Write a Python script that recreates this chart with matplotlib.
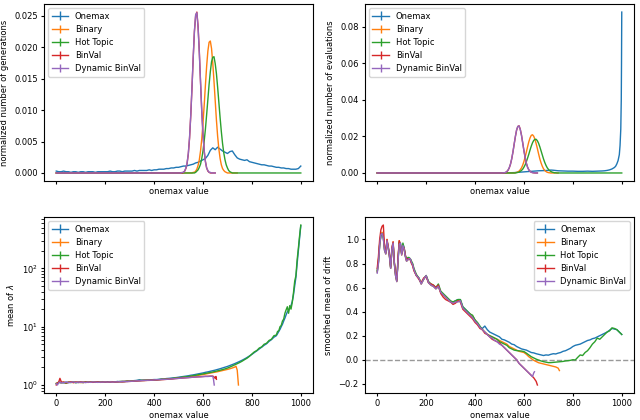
import numpy as np
import matplotlib
matplotlib.use("Agg")
import matplotlib.pyplot as plt

plt.rcParams['font.family'] = ['DejaVu Sans']
plt.rcParams['font.size'] = 6

LABELS = ["Onemax", "Binary", "Hot Topic", "BinVal", "Dynamic BinVal"]
COLORS = ["#1f77b4", "#ff7f0e", "#2ca02c", "#d62728", "#9467bd"]
XTICKS = [0, 200, 400, 600, 800, 1000]

# ---------------- top-left: normalized number of generations ----------------
onemax_gen_x = list(range(0, 1001, 10))
onemax_gen = [
    0.0003, 0.0002, 0.0002, 0.0003, 0.0002, 0.0002, 0.0001, 0.0002, 0.0002, 0.0001,
    0.0002, 0.0002, 0.0001, 0.0002, 0.0002, 0.0002, 0.0001, 0.0002, 0.0002, 0.0002,
    0.0002, 0.0002, 0.0003, 0.0002, 0.0002, 0.0003, 0.0003, 0.0002, 0.0003, 0.0003,
    0.0003, 0.0003, 0.0004, 0.0003, 0.0004, 0.0004, 0.0004, 0.0004, 0.0005, 0.0004,
    0.0005, 0.0005, 0.0006, 0.0006, 0.0006, 0.0007, 0.0007, 0.0008, 0.0008, 0.0009,
    0.0009, 0.0010, 0.0011, 0.0011, 0.0012, 0.0013, 0.0014, 0.0016, 0.0017, 0.0019,
    0.0021, 0.0023, 0.0028, 0.0036, 0.0040, 0.0037, 0.0041, 0.0038, 0.0035, 0.0033,
    0.0031, 0.0034, 0.0035, 0.0029, 0.0024, 0.0022, 0.0021, 0.0020, 0.0021, 0.0018,
    0.0017, 0.0016, 0.0015, 0.0014, 0.0013, 0.0013, 0.0012, 0.0011, 0.0011, 0.0010,
    0.0009, 0.0009, 0.0008, 0.0008, 0.0007, 0.0007, 0.0006, 0.0006, 0.0006, 0.0007,
    0.0011]

peak_x = list(range(500, 765, 5))  # 500 .. 760

binval_gen = [
    0.0, 0.0, 0.0, 0.0, 0.0001, 0.0003, 0.0007, 0.0015, 0.0030, 0.0055,
    0.0091, 0.0135, 0.0183, 0.0225, 0.0250, 0.0256, 0.0233, 0.0193, 0.0145, 0.0099,
    0.0062, 0.0035, 0.0018, 0.0008, 0.0003, 0.0001, 0.0, 0.0, 0.0, 0.0,
    0.0]
dynbinval_gen = [
    0.0, 0.0, 0.0, 0.0001, 0.0001, 0.0003, 0.0008, 0.0016, 0.0031, 0.0056,
    0.0092, 0.0136, 0.0184, 0.0226, 0.0252, 0.0255, 0.0231, 0.0191, 0.0144, 0.0098,
    0.0061, 0.0035, 0.0018, 0.0008, 0.0004, 0.0001, 0.0001, 0.0, 0.0, 0.0,
    0.0]
binary_gen = [
    0.0, 0.0, 0.0, 0.0, 0.0, 0.0, 0.0, 0.0, 0.0, 0.0, 0.0, 0.0,
    0.0001, 0.0001, 0.0003, 0.0006, 0.0012, 0.0021, 0.0035, 0.0054, 0.0079, 0.0108,
    0.0140, 0.0170, 0.0194, 0.0208, 0.0210, 0.0198, 0.0175, 0.0146, 0.0115, 0.0084,
    0.0058, 0.0038, 0.0023, 0.0013, 0.0007, 0.0004, 0.0002, 0.0001,
    0.0, 0.0, 0.0, 0.0, 0.0, 0.0, 0.0, 0.0, 0.0]
hottopic_gen = [
    0.0, 0.0, 0.0, 0.0, 0.0, 0.0, 0.0, 0.0, 0.0, 0.0, 0.0, 0.0, 0.0, 0.0,
    0.0001, 0.0003, 0.0005, 0.0009, 0.0014, 0.0023, 0.0035, 0.0051, 0.0070, 0.0093,
    0.0117, 0.0141, 0.0161, 0.0177, 0.0184, 0.0185, 0.0174, 0.0158, 0.0136, 0.0112,
    0.0088, 0.0066, 0.0047, 0.0032, 0.0021, 0.0013, 0.0008, 0.0004, 0.0002, 0.0001,
    0.0, 0.0, 0.0, 0.0, 0.0, 0.0, 0.0, 0.0, 0.0]

# ---------------- top-right: normalized number of evaluations ----------------
onemax_eval_x = [0, 100, 200, 300, 400, 500, 540, 560, 580, 600, 620, 640, 660, 680,
                 700, 710, 720, 740, 760, 780, 800, 820, 840, 860, 880, 900, 920, 930,
                 940, 950, 960, 970, 975, 980, 985, 990, 993, 996, 998, 999, 1000]
onemax_eval = [0.0, 0.0, 0.0, 0.0, 0.0, 0.0001, 0.0001, 0.0002, 0.0004, 0.0006, 0.0008,
               0.0010, 0.0012, 0.0013, 0.0014, 0.0016, 0.0015, 0.0012, 0.0011, 0.0010,
               0.0010, 0.0009, 0.0009, 0.0010, 0.0009, 0.0010, 0.0011, 0.0012, 0.0014,
               0.0017, 0.0022, 0.0030, 0.0037, 0.0050, 0.0068, 0.0100, 0.0150, 0.0240,
               0.0400, 0.0600, 0.0880]
binval_eval = [
    0.0, 0.0, 0.0, 0.0, 0.0001, 0.0003, 0.0007, 0.0015, 0.0028, 0.0048,
    0.0077, 0.0114, 0.0157, 0.0199, 0.0234, 0.0254, 0.0258, 0.0239, 0.0207, 0.0165,
    0.0122, 0.0084, 0.0053, 0.0031, 0.0017, 0.0009, 0.0004, 0.0002, 0.0001, 0.0,
    0.0, 0.0]
dynbinval_eval = [
    0.0, 0.0, 0.0, 0.0001, 0.0001, 0.0003, 0.0008, 0.0016, 0.0029, 0.0049,
    0.0078, 0.0115, 0.0158, 0.0200, 0.0236, 0.0255, 0.0257, 0.0237, 0.0205, 0.0163,
    0.0121, 0.0083, 0.0052, 0.0031, 0.0017, 0.0009, 0.0004, 0.0002, 0.0001, 0.0001,
    0.0, 0.0]
binary_eval = [
    0.0, 0.0, 0.0, 0.0, 0.0, 0.0, 0.0, 0.0, 0.0, 0.0, 0.0, 0.0, 0.0,
    0.0002, 0.0003, 0.0006, 0.0010, 0.0018, 0.0028, 0.0043, 0.0063, 0.0088, 0.0115,
    0.0144, 0.0171, 0.0192, 0.0206, 0.0209, 0.0201, 0.0184, 0.0160, 0.0133, 0.0104,
    0.0077, 0.0055, 0.0037, 0.0023, 0.0014, 0.0008, 0.0004, 0.0002, 0.0001,
    0.0, 0.0, 0.0, 0.0, 0.0, 0.0, 0.0]
hottopic_eval = [
    0.0, 0.0, 0.0, 0.0, 0.0, 0.0, 0.0, 0.0, 0.0, 0.0, 0.0, 0.0, 0.0, 0.0,
    0.0002, 0.0003, 0.0005, 0.0009, 0.0014, 0.0021, 0.0032, 0.0045, 0.0062, 0.0082,
    0.0103, 0.0126, 0.0147, 0.0165, 0.0178, 0.0184, 0.0184, 0.0176, 0.0162, 0.0143,
    0.0121, 0.0099, 0.0077, 0.0058, 0.0042, 0.0029, 0.0020, 0.0013, 0.0008, 0.0005,
    0.0003, 0.0001, 0.0001,
    0.0, 0.0, 0.0, 0.0, 0.0, 0.0]

# ---------------- bottom-left: mean of lambda ----------------
lam_x = list(range(0, 900, 10)) + list(range(900, 1001, 5))
hottopic_lam = [
    1.05, 1.12, 1.09, 1.11, 1.07, 1.12, 1.10, 1.13, 1.09, 1.12,
    1.11, 1.10, 1.13, 1.11, 1.12, 1.13, 1.11, 1.13, 1.12, 1.13,
    1.12, 1.14, 1.12, 1.13, 1.14, 1.13, 1.15, 1.14, 1.15, 1.16,
    1.16, 1.17, 1.18, 1.19, 1.19, 1.20, 1.20, 1.21, 1.21, 1.22,
    1.22, 1.23, 1.24, 1.25, 1.26, 1.27, 1.28, 1.29, 1.30, 1.32,
    1.33, 1.35, 1.37, 1.38, 1.40, 1.42, 1.45, 1.47, 1.50, 1.52,
    1.55, 1.58, 1.61, 1.64, 1.67, 1.71, 1.75, 1.79, 1.84, 1.89,
    1.95, 2.03, 2.12, 2.22, 2.32, 2.43, 2.56, 2.72, 2.88, 3.10,
    3.40, 3.70, 3.90, 4.30, 4.50, 5.00, 5.20, 5.80, 6.10, 7.00,
    7.20, 8.30, 8.50, 10.0, 10.5, 12.5, 13.5, 17.0, 19.5, 22.0,
    17.0, 23.0, 20.0, 26.0, 38.0, 60.0, 75.0, 140.0, 220.0, 360.0,
    555.0]
onemax_lam = [
    1.06, 1.10, 1.11, 1.09, 1.12, 1.10, 1.12, 1.11, 1.12, 1.10,
    1.12, 1.12, 1.11, 1.13, 1.12, 1.12, 1.13, 1.12, 1.13, 1.14,
    1.13, 1.13, 1.14, 1.14, 1.13, 1.15, 1.14, 1.16, 1.15, 1.17,
    1.17, 1.18, 1.19, 1.20, 1.23, 1.21, 1.22, 1.21, 1.23, 1.23,
    1.24, 1.24, 1.25, 1.27, 1.27, 1.29, 1.30, 1.31, 1.33, 1.34,
    1.36, 1.38, 1.40, 1.42, 1.44, 1.47, 1.49, 1.52, 1.55, 1.58,
    1.61, 1.65, 1.68, 1.72, 1.76, 1.80, 1.85, 1.90, 1.96, 2.02,
    2.08, 2.16, 2.24, 2.33, 2.43, 2.54, 2.66, 2.80, 2.96, 3.15,
    3.35, 3.60, 3.85, 4.15, 4.45, 4.80, 5.10, 5.60, 6.00, 6.60,
    7.0, 7.6, 8.3, 9.0, 10.0, 11.0, 12.5, 14.0, 16.0, 18.0,
    19.0, 21.0, 23.0, 27.0, 35.0, 50.0, 70.0, 120.0, 200.0, 330.0,
    540.0]
binary_lam_x = list(range(0, 740, 10)) + [735, 740, 745]
binary_lam = [
    1.07, 1.11, 1.10, 1.12, 1.08, 1.11, 1.12, 1.10, 1.12, 1.11,
    1.10, 1.12, 1.12, 1.11, 1.13, 1.12, 1.12, 1.11, 1.13, 1.12,
    1.13, 1.12, 1.14, 1.13, 1.13, 1.14, 1.14, 1.15, 1.15, 1.16,
    1.16, 1.17, 1.17, 1.18, 1.19, 1.19, 1.20, 1.20, 1.21, 1.21,
    1.22, 1.22, 1.23, 1.24, 1.25, 1.26, 1.27, 1.28, 1.29, 1.31,
    1.32, 1.33, 1.35, 1.37, 1.38, 1.40, 1.42, 1.44, 1.46, 1.49,
    1.51, 1.54, 1.57, 1.60, 1.63, 1.66, 1.69, 1.73, 1.77, 1.81,
    1.85, 1.90, 1.96, 2.03,
    2.10, 1.80, 1.00]
binval_lam_x = [0, 5, 10, 15, 20, 25, 30] + list(range(40, 650, 10)) + [645, 650, 653, 655]
binval_lam = [
    1.00, 1.08, 1.12, 1.30, 1.15, 1.10, 1.12,
    1.09, 1.11, 1.13, 1.10, 1.12, 1.11, 1.13, 1.10, 1.12, 1.11,
    1.12, 1.11, 1.12, 1.13, 1.11, 1.12, 1.13, 1.12, 1.12, 1.13,
    1.12, 1.13, 1.14, 1.13, 1.14, 1.15, 1.15, 1.16, 1.17, 1.17,
    1.18, 1.19, 1.19, 1.20, 1.20, 1.21, 1.22, 1.22, 1.23, 1.24,
    1.24, 1.25, 1.26, 1.27, 1.28, 1.29, 1.30, 1.31, 1.32, 1.33,
    1.34, 1.35, 1.36, 1.37, 1.38, 1.39, 1.40, 1.41, 1.41, 1.42,
    1.42,
    1.38, 1.30, 1.40, 1.25]
dynbinval_lam_x = [0, 5, 10, 15, 20, 25, 30] + list(range(40, 650, 10)) + [643, 646]
dynbinval_lam = [
    1.05, 1.00, 1.10, 1.12, 1.08, 1.11, 1.09,
    1.12, 1.10, 1.11, 1.13, 1.10, 1.12, 1.11, 1.12, 1.10, 1.12,
    1.11, 1.13, 1.12, 1.11, 1.12, 1.12, 1.13, 1.12, 1.13, 1.12,
    1.13, 1.13, 1.14, 1.14, 1.15, 1.14, 1.16, 1.16, 1.17, 1.18,
    1.18, 1.19, 1.20, 1.20, 1.21, 1.21, 1.22, 1.23, 1.23, 1.24,
    1.25, 1.25, 1.26, 1.27, 1.28, 1.29, 1.30, 1.31, 1.32, 1.33,
    1.34, 1.35, 1.36, 1.37, 1.38, 1.38, 1.39, 1.40, 1.40, 1.41,
    1.41,
    1.25, 1.00]

# ---------------- bottom-right: smoothed mean of drift ----------------
drift_head_x = list(range(0, 151, 5)) + list(range(160, 421, 10))
onemax_drift_head = [
    0.73, 0.81, 0.95, 1.03, 1.05, 1.01, 0.91, 0.88, 0.99, 0.93,
    0.86, 0.76, 0.92, 0.97, 0.80, 0.70, 0.65, 0.82, 0.97, 0.97,
    0.88, 0.96, 0.93, 0.86, 0.82, 0.83, 0.84, 0.84, 0.81, 0.79,
    0.75,
    0.70, 0.68, 0.63, 0.67, 0.70, 0.64, 0.62, 0.61, 0.59, 0.61,
    0.56, 0.54, 0.52, 0.50, 0.48, 0.48, 0.49, 0.50, 0.50, 0.44,
    0.42, 0.40, 0.38, 0.36, 0.33, 0.30, 0.27]
binary_drift_head = [
    0.73, 0.81, 0.96, 1.04, 1.06, 1.02, 0.91, 0.88, 1.00, 0.93,
    0.86, 0.76, 0.92, 0.98, 0.80, 0.70, 0.65, 0.83, 0.99, 0.96,
    0.87, 0.95, 0.92, 0.86, 0.82, 0.83, 0.84, 0.84, 0.81, 0.79,
    0.75,
    0.70, 0.68, 0.63, 0.67, 0.70, 0.64, 0.62, 0.61, 0.59, 0.61,
    0.56, 0.54, 0.52, 0.50, 0.48, 0.47, 0.48, 0.49, 0.49, 0.43,
    0.41, 0.39, 0.38, 0.36, 0.33, 0.30, 0.27]
hottopic_drift_head = [
    0.74, 0.82, 0.96, 1.03, 1.05, 1.02, 0.92, 0.89, 0.98, 0.94,
    0.87, 0.77, 0.91, 0.96, 0.81, 0.71, 0.66, 0.83, 0.98, 0.96,
    0.88, 0.97, 0.93, 0.87, 0.83, 0.85, 0.85, 0.84, 0.82, 0.80,
    0.76,
    0.71, 0.68, 0.64, 0.67, 0.70, 0.65, 0.63, 0.62, 0.60, 0.63,
    0.57, 0.55, 0.53, 0.51, 0.49, 0.48, 0.49, 0.50, 0.50, 0.44,
    0.42, 0.40, 0.38, 0.37, 0.33, 0.31, 0.28]
binval_drift_head = [
    0.76, 0.86, 1.00, 1.08, 1.11, 1.12, 0.94, 0.89, 1.00, 0.94,
    0.87, 0.77, 0.93, 0.98, 0.81, 0.72, 0.66, 0.84, 0.99, 0.95,
    0.88, 0.93, 0.93, 0.87, 0.83, 0.84, 0.84, 0.83, 0.80, 0.78,
    0.74,
    0.70, 0.67, 0.64, 0.68, 0.69, 0.64, 0.63, 0.62, 0.60, 0.62,
    0.55, 0.52, 0.50, 0.49, 0.48, 0.46, 0.47, 0.49, 0.48, 0.42,
    0.40, 0.38, 0.36, 0.34, 0.31, 0.29, 0.26]
dynbinval_drift_head = [
    0.72, 0.80, 0.95, 1.04, 1.05, 1.01, 0.91, 0.88, 0.99, 0.93,
    0.86, 0.76, 0.92, 0.97, 0.80, 0.70, 0.65, 0.82, 0.96, 0.97,
    0.87, 0.95, 0.92, 0.86, 0.82, 0.83, 0.84, 0.84, 0.81, 0.79,
    0.75,
    0.70, 0.68, 0.63, 0.67, 0.70, 0.64, 0.62, 0.61, 0.59, 0.61,
    0.56, 0.54, 0.52, 0.50, 0.48, 0.47, 0.48, 0.48, 0.49, 0.43,
    0.41, 0.39, 0.37, 0.35, 0.32, 0.30, 0.27]

onemax_drift_tail_x = list(range(430, 1001, 10))
onemax_drift_tail = [
    0.26, 0.28, 0.25, 0.23, 0.22, 0.21, 0.20, 0.19, 0.17, 0.165,
    0.155, 0.145, 0.13, 0.125, 0.11, 0.10, 0.09, 0.085, 0.08, 0.07,
    0.06, 0.057, 0.05, 0.045, 0.04, 0.035, 0.04, 0.038, 0.045, 0.05,
    0.048, 0.055, 0.06, 0.07, 0.075, 0.085, 0.095, 0.11, 0.12, 0.125,
    0.13, 0.14, 0.15, 0.16, 0.165, 0.175, 0.18, 0.19, 0.20, 0.21,
    0.22, 0.23, 0.245, 0.26, 0.255, 0.25, 0.23, 0.21]
binary_drift_tail_x = list(range(430, 741, 10)) + [745]
binary_drift_tail = [
    0.25, 0.23, 0.21, 0.20, 0.19, 0.18, 0.17, 0.16, 0.15, 0.14,
    0.13, 0.11, 0.10, 0.09, 0.08, 0.07, 0.065, 0.06, 0.045, 0.025,
    0.01, -0.005, -0.015, -0.025, -0.03, -0.035, -0.04, -0.045, -0.05, -0.055,
    -0.06, -0.07, -0.09]
hottopic_drift_tail_x = list(range(430, 1001, 10))
hottopic_drift_tail = [
    0.25, 0.23, 0.21, 0.20, 0.19, 0.18, 0.17, 0.15, 0.14, 0.13,
    0.12, 0.10, 0.09, 0.08, 0.076, 0.074, 0.072, 0.068, 0.055, 0.04,
    0.025, 0.015, 0.005, -0.003, -0.01, -0.016, -0.02, -0.024, -0.024, -0.022,
    -0.02, -0.018, -0.016, -0.014, -0.01, -0.008, -0.005, 0.0, -0.002, 0.02,
    0.04, 0.035, 0.06, 0.075, 0.10, 0.13, 0.15, 0.18, 0.17, 0.19,
    0.21, 0.23, 0.24, 0.265, 0.26, 0.25, 0.23, 0.21]
binval_drift_tail_x = list(range(430, 651, 10)) + [655]
binval_drift_tail = [
    0.25, 0.22, 0.21, 0.19, 0.17, 0.16, 0.15, 0.14, 0.12, 0.10,
    0.08, 0.06, 0.04, 0.02, 0.00, -0.03, -0.05, -0.07, -0.09, -0.11,
    -0.13, -0.15, -0.18, -0.21]
dynbinval_drift_tail_x = list(range(430, 631, 10)) + [635, 640, 643]
dynbinval_drift_tail = [
    0.25, 0.23, 0.21, 0.19, 0.18, 0.16, 0.15, 0.13, 0.12, 0.10,
    0.08, 0.06, 0.04, 0.02, 0.00, -0.03, -0.05, -0.07, -0.09, -0.11,
    -0.13, -0.14, -0.11, -0.10]


def eb(ax, x, y, i):
    ax.errorbar(x, y, yerr=np.zeros(len(y)), color=COLORS[i], label=LABELS[i], lw=1.0)


fig = plt.figure(figsize=(6.4, 4.2), dpi=100)
ax1 = fig.add_axes([0.0688, 0.569, 0.4203, 0.4214])
ax2 = fig.add_axes([0.5703, 0.569, 0.4203, 0.4214])
ax3 = fig.add_axes([0.0688, 0.0643, 0.4203, 0.419])
ax4 = fig.add_axes([0.5703, 0.0643, 0.4203, 0.419])

# top-left
eb(ax1, onemax_gen_x, onemax_gen, 0)
eb(ax1, [0] + peak_x[:49], [0.0] + binary_gen, 1)
eb(ax1, [0] + peak_x + [1000], [0.0] + hottopic_gen + [0.0], 2)
eb(ax1, [0] + peak_x[:31], [0.0] + binval_gen, 3)
eb(ax1, [0] + peak_x[:31], [0.0] + dynbinval_gen, 4)
ax1.set_ylabel("normalized number of generations")

# top-right
eb(ax2, onemax_eval_x, onemax_eval, 0)
eb(ax2, [0] + peak_x[:49], [0.0] + binary_eval, 1)
eb(ax2, [0] + peak_x + [1000], [0.0] + hottopic_eval + [0.0], 2)
eb(ax2, [0] + peak_x[:32], [0.0] + binval_eval, 3)
eb(ax2, [0] + peak_x[:32], [0.0] + dynbinval_eval, 4)
ax2.set_ylabel("normalized number of evaluations")

for ax in (ax1, ax2):
    ax.set_xticks(XTICKS)
    ax.tick_params(labelbottom=False)

# bottom-left
eb(ax3, lam_x, onemax_lam, 0)
eb(ax3, binary_lam_x, binary_lam, 1)
eb(ax3, lam_x, hottopic_lam, 2)
eb(ax3, binval_lam_x, binval_lam, 3)
eb(ax3, dynbinval_lam_x, dynbinval_lam, 4)
ax3.set_yscale("log")
ax3.set_ylabel("mean of $\\lambda$")

# bottom-right
eb(ax4, drift_head_x + onemax_drift_tail_x, onemax_drift_head + onemax_drift_tail, 0)
eb(ax4, drift_head_x + binary_drift_tail_x, binary_drift_head + binary_drift_tail, 1)
eb(ax4, drift_head_x + hottopic_drift_tail_x, hottopic_drift_head + hottopic_drift_tail, 2)
eb(ax4, drift_head_x + binval_drift_tail_x, binval_drift_head + binval_drift_tail, 3)
eb(ax4, drift_head_x + dynbinval_drift_tail_x, dynbinval_drift_head + dynbinval_drift_tail, 4)
ax4.axhline(0.0, color="0.6", ls="--", lw=1.0)
ax4.set_ylabel("smoothed mean of drift")

for ax in (ax3, ax4):
    ax.set_xticks(XTICKS)

for ax in (ax1, ax2, ax3, ax4):
    ax.set_xlabel("onemax value", labelpad=2)
    ax.tick_params(length=2.5, pad=2)

ax1.legend(loc="upper left", fontsize=6)
ax2.legend(loc="upper left", fontsize=6)
ax3.legend(loc="upper left", fontsize=6)
ax4.legend(loc="upper right", fontsize=6)

fig.savefig("out.png", dpi=100)
